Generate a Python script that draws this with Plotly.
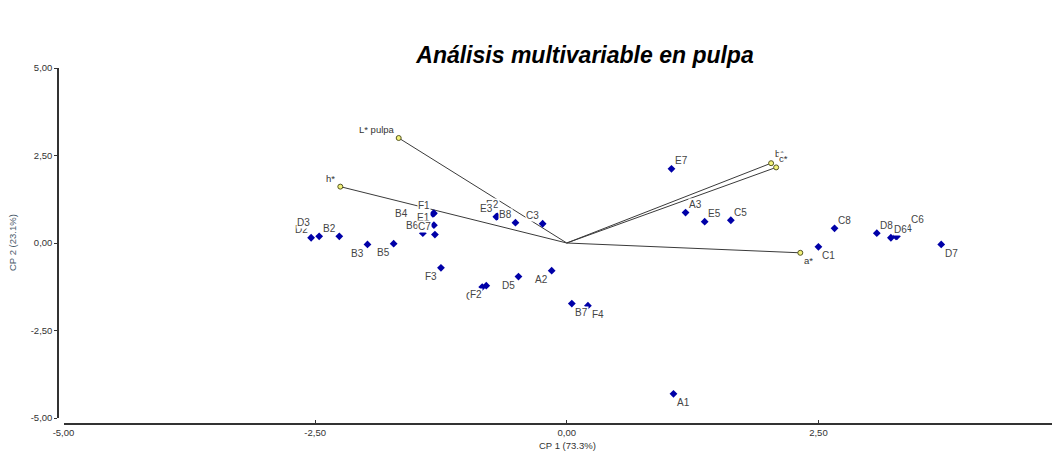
import plotly.graph_objects as go

# ---- data ----
obs_labels = ["D2", "D3", "B2", "B3", "B5", "B6", "F1", "B4", "E1", "C7",
              "E2", "E3", "B8", "C3", "F3", "C2", "F2", "D5", "A2", "B7",
              "F4", "E7", "A3", "E5", "C5", "C8", "C1", "D8", "D4", "D6",
              "C6", "D7", "A1"]
obs_cp1 = [-2.54, -2.46, -2.26, -1.98, -1.72, -1.43, -1.32, -1.33, -1.32, -1.31,
           -0.69, -0.70, -0.51, -0.24, -1.25, -0.84, -0.80, -0.48, -0.15, 0.05,
           0.21, 1.04, 1.18, 1.37, 1.63, 2.66, 2.50, 3.08, 3.27, 3.22,
           3.28, 3.72, 1.06]
obs_cp2 = [0.15, 0.19, 0.19, -0.04, -0.02, 0.28, 0.85, 0.83, 0.51, 0.24,
           0.76, 0.75, 0.58, 0.55, -0.71, -1.26, -1.22, -0.96, -0.79, -1.73,
           -1.79, 2.12, 0.87, 0.61, 0.65, 0.42, -0.11, 0.28, 0.19, 0.15,
           0.19, -0.04, -4.31]

var_labels = ["L* pulpa", "h*", "b*", "c*", "a*"]
var_cp1 = [-1.67, -2.25, 2.03, 2.08, 2.32]
var_cp2 = [3.00, 1.61, 2.28, 2.16, -0.28]

x_ticks = [-5.0, -2.5, 0.0, 2.5]
y_ticks = [-5.0, -2.5, 0.0, 2.5, 5.0]

title_text = "Análisis multivariable en pulpa"
x_title = "CP 1 (73.3%)"
y_title = "CP 2 (23.1%)"

# ---- styling: label offsets (pixels) relative to each mark ----
OFF = {"tl": (-10, 8), "bl": (-10, -9), "tr": (10, 8), "br": (10, -9)}
obs_label_place = ["tl", (-16, 14), "tl", "bl", "bl", "tl", "tl", (-31, 0), "tl", "tl",
                   (-5, 12), "tl", "tl", "tl", "bl", "bl", "bl", "bl", "bl", "br",
                   "br", "tr", "tr", "tr", "tr", "tr", "br", "tr", "tr", "tr",
                   (21, 17), "br", "br"]
var_label_place = [(-22, 9), "tl", (8, 10), (7, 9), (8, -8)]

# page body has an 8px margin; figure fills the rest of the 1060x462 window
PAD = 8
W, H = 1060 - PAD, 462 - PAD
FONT = "Liberation Sans, Arial, sans-serif"


def px_x(p):
    return (p - PAD) / W


def px_y(p):
    return 1 - (p - PAD) / H


def fmt(v):
    return ("%.2f" % v).replace(".", ",")


fig = go.Figure()

# vector lines from origin
lx, ly = [], []
for vx, vy in zip(var_cp1, var_cp2):
    lx += [0, vx, None]
    ly += [0, vy, None]
fig.add_trace(go.Scatter(x=lx, y=ly, mode="lines",
                         line=dict(color="#3a3a3a", width=1),
                         hoverinfo="skip", showlegend=False))

# vector endpoints
fig.add_trace(go.Scatter(x=var_cp1, y=var_cp2, mode="markers",
                         marker=dict(symbol="circle", size=5, color="#f2f27a",
                                     line=dict(color="#555522", width=1)),
                         hovertext=var_labels, showlegend=False))

# observations
fig.add_trace(go.Scatter(x=obs_cp1, y=obs_cp2, mode="markers",
                         marker=dict(symbol="diamond", size=6, color="#0000a8"),
                         hovertext=obs_labels, showlegend=False))

annotations = []


def add_labels(labels, xs, ys, places, color, size):
    for lab, x, y, pl in zip(labels, xs, ys, places):
        dx, dy = OFF[pl] if isinstance(pl, str) else pl
        annotations.append(dict(x=x, y=y, xref="x", yref="y", text=lab,
                                showarrow=False, xshift=dx, yshift=dy,
                                xanchor="center", yanchor="middle",
                                bgcolor="white", borderpad=0,
                                font=dict(family=FONT, size=size, color=color)))


add_labels(var_labels, var_cp1, var_cp2, var_label_place, "#333333", 9.5)
add_labels(obs_labels, obs_cp1, obs_cp2, obs_label_place, "#444444", 10)

# axis titles
annotations.append(dict(x=px_x(567), y=px_y(445), xref="paper", yref="paper",
                        text=x_title, showarrow=False, xanchor="center", yanchor="middle",
                        font=dict(family=FONT, size=9.5, color="#333333")))
annotations.append(dict(x=px_x(12), y=px_y(243), xref="paper", yref="paper",
                        text=y_title, showarrow=False, textangle=-90,
                        xanchor="center", yanchor="middle",
                        font=dict(family=FONT, size=9.5, color="#4a5a6a")))

fig.update_layout(
    width=W, height=H,
    margin=dict(l=0, r=0, t=0, b=0),
    paper_bgcolor="white", plot_bgcolor="white",
    font=dict(family=FONT, size=10, color="#333333"),
    title=dict(text="<b><i>" + title_text + "</i></b>",
               x=px_x(585), y=px_y(55), xref="paper", yref="container",
               xanchor="center", yanchor="middle",
               font=dict(family=FONT, size=23, color="black")),
    xaxis=dict(range=[-5, 4.9], domain=[px_x(63.5), 1.0],
               anchor="free", position=px_y(424), automargin=False,
               tickvals=x_ticks, ticktext=[fmt(v) for v in x_ticks],
               showgrid=False, zeroline=False,
               showline=True, linecolor="#333333", linewidth=1.5,
               ticks="inside", ticklen=3, tickcolor="#333333",
               tickfont=dict(family=FONT, size=9.5, color="#333333")),
    yaxis=dict(range=[-5, 5], domain=[px_y(418), px_y(68)],
               anchor="free", position=px_x(58), automargin=False,
               tickvals=y_ticks, ticktext=[fmt(v) for v in y_ticks],
               showgrid=False, zeroline=False,
               showline=True, linecolor="#333333", linewidth=1.5,
               ticks="outside", ticklen=3, tickcolor="#333333",
               tickfont=dict(family=FONT, size=9.5, color="#333333")),
    annotations=annotations,
)

fig.write_html("out.html")
